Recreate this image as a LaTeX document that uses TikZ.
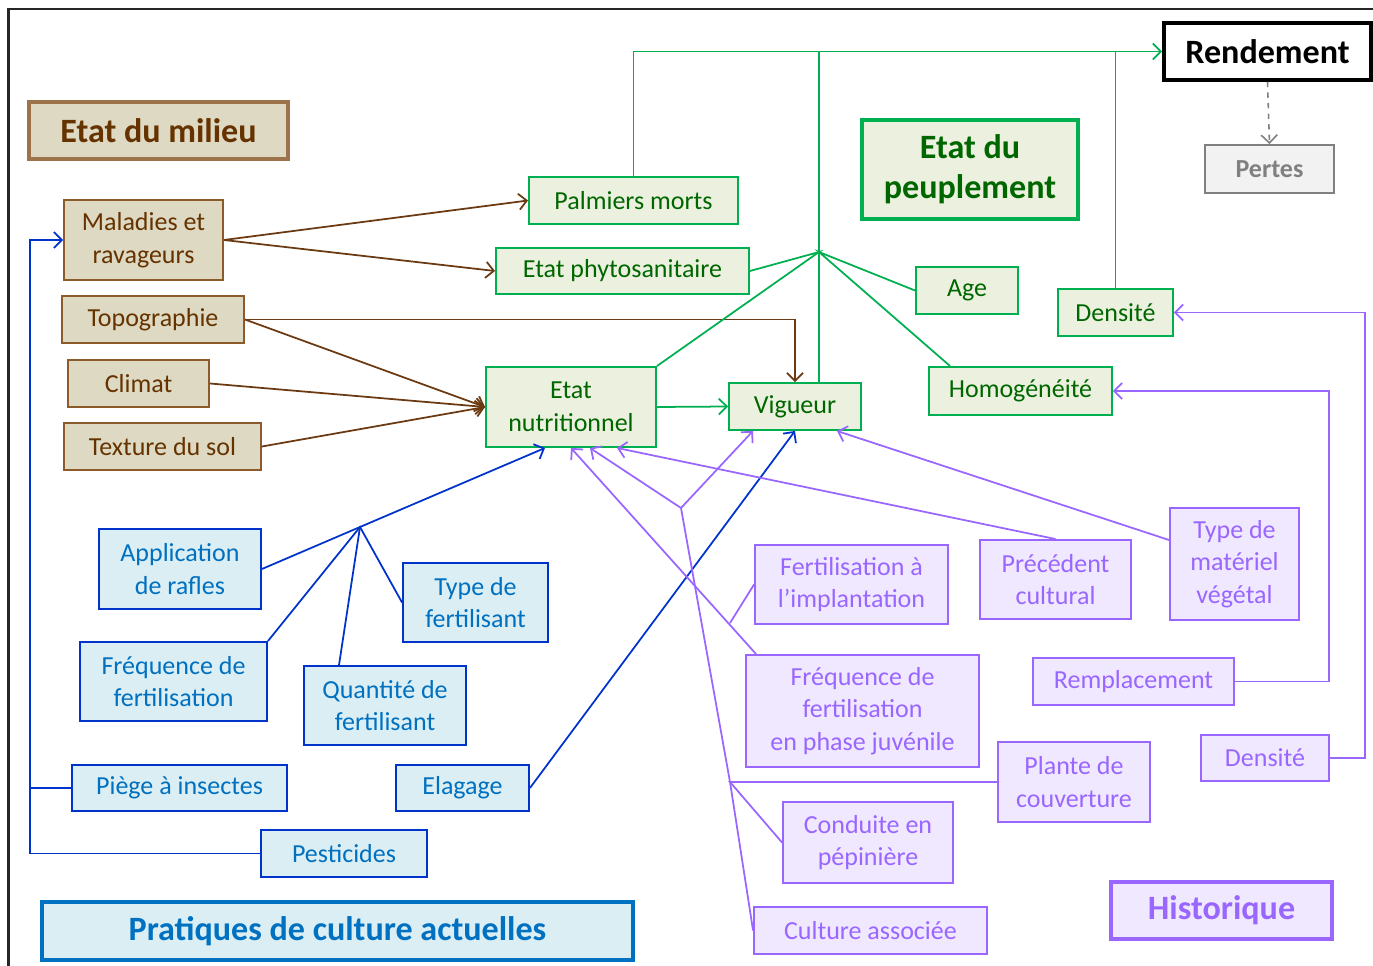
\documentclass[tikz,border=0pt]{standalone}
\usepackage{fontspec}
\setmainfont{Carlito}
\usetikzlibrary{arrows.meta}
\definecolor{brunfond}{HTML}{DDD9C3}
\definecolor{brunbord}{HTML}{8C5A2B}
\definecolor{bruntexte}{HTML}{663300}
\definecolor{brunlien}{HTML}{6B3A12}
\definecolor{vertfond}{HTML}{EBF1DE}
\definecolor{vertbord}{HTML}{00B050}
\definecolor{verttexte}{HTML}{006600}
\definecolor{bleufond}{HTML}{DAEEF3}
\definecolor{bleubord}{HTML}{0033CC}
\definecolor{bleutitre}{HTML}{0070C0}
\definecolor{bleutexte}{HTML}{0070C0}
\definecolor{violetfond}{HTML}{F0E8FF}
\definecolor{violet}{HTML}{9966FF}
\definecolor{grisfond}{HTML}{F2F2F2}
\definecolor{gris}{HTML}{808080}
\tikzset{
    case/.style={draw, inner sep=0pt, align=center, line width=1.1pt,
        font=\fontsize{14.8}{18.6}\selectfont},
    milieu/.style={case, fill=brunfond, draw=brunbord, text=bruntexte},
    peuple/.style={case, fill=vertfond, draw=vertbord, text=verttexte},
    pratique/.style={case, fill=bleufond, draw=bleubord, text=bleutexte},
    histo/.style={case, fill=violetfond, draw=violet, text=violet},
    titre/.style={line width=2.2pt, font=\fontsize{19.4}{23}\selectfont\bfseries},
    lienbrun/.style={draw=brunlien, line width=1pt},
    lienvert/.style={draw=vertbord, line width=1pt},
    lienbleu/.style={draw=bleubord, line width=1pt},
    lienviolet/.style={draw=violet, line width=1pt},
    liengris/.style={draw=gris, line width=0.9pt, dashed},
    >={Straight Barb[length=1.6mm,width=3.2mm]}
}
\begin{document}
\begin{tikzpicture}[x=0.02cm, y=-0.02cm]
    \useasboundingbox (0,0) rectangle (1373,966);
    \draw[line width=1.3pt, black!85] (8.5,966) -- (8.5,9) -- (1373,9);

    \node[milieu, titre, draw=brunbord!85, minimum width=5.18cm, minimum height=1.14cm] (titremilieu) at (158.5,130.5) {Etat du milieu};
    \node[milieu, minimum width=3.18cm, minimum height=1.6cm] (maladies) at (143.5,240) {Maladies et\\ravageurs};
    \node[milieu, minimum width=3.64cm, minimum height=0.94cm] (topo) at (153,319.5) {Topographie};
    \node[milieu, minimum width=2.82cm, minimum height=0.94cm] (climat) at (138.5,383.5) {Climat};
    \node[milieu, minimum width=3.94cm, minimum height=0.94cm] (texture) at (162.5,446.5) {Texture du sol};

    \node[peuple, minimum width=4.18cm, minimum height=0.94cm] (palmiers) at (633.5,200.5) {Palmiers morts};
    \node[peuple, minimum width=5.06cm, minimum height=0.92cm] (phyto) at (622.5,271) {Etat phytosanitaire};
    \node[peuple, minimum width=3.4cm, minimum height=1.6cm] (nutri) at (571,407) {Etat\\nutritionnel};
    \node[peuple, minimum width=2.64cm, minimum height=0.94cm] (vigueur) at (795,406.5) {Vigueur};
    \node[peuple, minimum width=2.04cm, minimum height=0.94cm] (age) at (967,290.5) {Age};
    \node[peuple, minimum width=3.66cm, minimum height=0.96cm] (homo) at (1020.5,391) {Homogénéité};
    \node[peuple, minimum width=2.3cm, minimum height=0.94cm] (densite) at (1115.5,312.5) {Densité};
    \node[peuple, titre, minimum width=4.32cm, minimum height=1.98cm] (titrepeuplement) at (970,169.5) {Etat du\\peuplement};

    \node[case, titre, draw=black, fill=white, minimum width=4.14cm, minimum height=1.14cm] (rendement) at (1267.5,51.5) {Rendement};
    \node[case, fill=grisfond, draw=gris, text=gris, font=\fontsize{14.8}{18.6}\selectfont\bfseries, minimum width=2.58cm, minimum height=0.96cm] (pertes) at (1269.5,169) {Pertes};

    \node[pratique, minimum width=3.24cm, minimum height=1.6cm] (rafles) at (180,569) {Application\\de rafles};
    \node[pratique, minimum width=3.74cm, minimum height=1.58cm] (freqfert) at (173.5,681.5) {Fréquence de\\fertilisation};
    \node[pratique, minimum width=2.9cm, minimum height=1.58cm] (typefert) at (475.5,602.5) {Type de\\fertilisant};
    \node[pratique, minimum width=3.24cm, minimum height=1.58cm] (quantite) at (385,705.5) {Quantité de\\fertilisant};
    \node[pratique, minimum width=4.3cm, minimum height=0.92cm] (piege) at (179.5,788) {Piège à insectes};
    \node[pratique, minimum width=2.66cm, minimum height=0.92cm] (elagage) at (462.5,788) {Elagage};
    \node[pratique, minimum width=3.32cm, minimum height=0.94cm] (pesticides) at (344,853.5) {Pesticides};
    \node[pratique, titre, draw=bleutitre, minimum width=11.82cm, minimum height=1.16cm] (titrepratiques) at (337.5,931) {Pratiques de culture actuelles};

    \node[histo, minimum width=3.86cm, minimum height=1.58cm] (fertimpl) at (851.5,584.5) {Fertilisation à\\l’implantation};
    \node[histo, minimum width=3.02cm, minimum height=1.58cm] (precedent) at (1055.5,579.5) {Précédent\\cultural};
    \node[histo, minimum width=2.58cm, minimum height=2.24cm] (materiel) at (1234.5,564) {Type de\\matériel\\végétal};
    \node[histo, minimum width=4.66cm, minimum height=2.24cm] (freqjuv) at (862.5,711) {Fréquence de\\fertilisation\\en phase juvénile};
    \node[histo, minimum width=4.02cm, minimum height=0.94cm] (remplacement) at (1133.5,681.5) {Remplacement};
    \node[histo, minimum width=2.56cm, minimum height=0.92cm] (densitep) at (1265,758) {Densité};
    \node[histo, minimum width=3.04cm, minimum height=1.6cm] (plante) at (1074,782) {Plante de\\couverture};
    \node[histo, minimum width=3.4cm, minimum height=1.62cm] (conduite) at (868,842.5) {Conduite en\\pépinière};
    \node[histo, minimum width=4.66cm, minimum height=0.94cm] (culture) at (870.5,930.5) {Culture associée};
    \node[histo, titre, minimum width=4.42cm, minimum height=1.14cm] (titrehistorique) at (1221.5,910.5) {Historique};

    \draw[lienbrun,->] (maladies.east) -- (palmiers.west);
    \draw[lienbrun,->] (maladies.east) -- (phyto.west);
    \draw[lienbrun,->] (topo.east) -| (vigueur.north);
    \draw[lienbrun,->] (topo.east) -- (nutri.west);
    \draw[lienbrun,->] (climat.east) -- (nutri.west);
    \draw[lienbrun,->] (texture.east) -- (nutri.west);

    \coordinate (noeudvert) at (819,252);
    \draw[lienvert] (phyto.east) -- (noeudvert) -- (nutri.north east);
    \draw[lienvert] (age.west) -- (noeudvert) -- ([xshift=0.44cm]homo.north west);
    \draw[lienvert] (noeudvert |- vigueur.north) -- (noeudvert |- rendement.west);
    \draw[lienvert,->] (palmiers.north) |- (rendement.west);
    \draw[lienvert] (densite.north) -- (densite.north |- rendement.west);
    \draw[lienvert,->] (nutri.east) -- (vigueur.west);
    \draw[liengris,->] (rendement.south) -- (pertes.north);

    \coordinate (noeudbleu) at (360,527);
    \draw[lienbleu,->] (rafles.east) -- (noeudbleu) -- ([xshift=-0.52cm]nutri.south);
    \draw[lienbleu] (freqfert.north east) -- (noeudbleu) -- (typefert.west);
    \draw[lienbleu] ([xshift=-0.92cm]quantite.north) -- (noeudbleu);
    \draw[lienbleu,->] (elagage.east) -- (vigueur.south);
    \coordinate (rail) at (30,0);
    \draw[lienbleu,->] (pesticides.west) -| (rail |- maladies.west) -- (maladies.west);
    \draw[lienbleu] (piege.west) -- (rail |- piege.west);

    \coordinate (noeudv1) at (681,508);
    \coordinate (noeudv2) at (730,782);
    \coordinate (noeudv3) at (730,623);
    \draw[lienviolet,->] (noeudv2) -- (noeudv1) -- ([xshift=0.38cm]nutri.south);
    \draw[lienviolet,->] (noeudv1) -- ([xshift=-0.84cm]vigueur.south);
    \draw[lienviolet] (plante.west) -- (noeudv2) -- (conduite.west);
    \draw[lienviolet] (noeudv2) -- (culture.west);
    \draw[lienviolet,->] ([xshift=0.22cm]freqjuv.north west) -- (nutri.south);
    \draw[lienviolet] (fertimpl.west) -- (noeudv3);
    \draw[lienviolet,->] (precedent.north) -- ([xshift=0.92cm]nutri.south);
    \draw[lienviolet,->] ([yshift=0.48cm]materiel.west) -- ([xshift=0.84cm]vigueur.south);
    \draw[lienviolet,->] (remplacement.east) -- ++(94,0) |- (homo.east);
    \draw[lienviolet,->] (densitep.east) -- ++(35,0) |- (densite.east);
\end{tikzpicture}
\end{document}
